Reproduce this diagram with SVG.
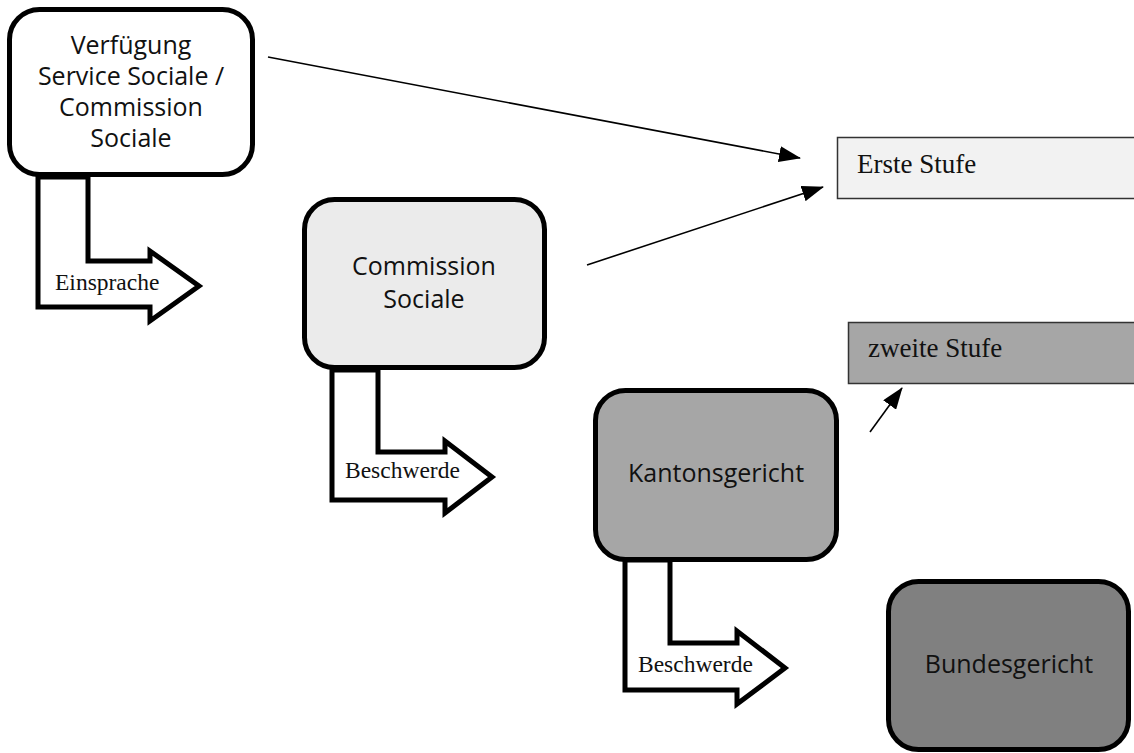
<svg xmlns="http://www.w3.org/2000/svg" width="1134" height="753" viewBox="0 0 1134 753">
<style>
.node{stroke:#000;stroke-width:5}
.lbl{font-family:"Open Sans","Noto Sans",sans-serif;font-size:25px;fill:#111;text-anchor:middle}
.stage{stroke:#333;stroke-width:1.5}
.stxt{font-family:"Liberation Serif","Times New Roman",serif;font-size:27px;fill:#111}
.barrow{fill:#fff;stroke:#000;stroke-width:5;stroke-linejoin:miter}
.btxt{font-family:"Liberation Serif","Times New Roman",serif;font-size:23.5px;fill:#111}
.conn{stroke:#000;stroke-width:1.6;fill:none;marker-end:url(#ah)}
</style>
<defs>
<marker id="ah" markerUnits="userSpaceOnUse" markerWidth="22" markerHeight="16" viewBox="0 0 22 16" refX="21" refY="8" orient="auto">
<path d="M0,0 L22,8 L0,16 Z" fill="#000"/>
</marker>
</defs>
<rect width="1134" height="753" fill="#fff"/>
<g id="stage1">
<rect class="stage" x="837.5" y="137.5" width="310" height="61" fill="#f2f2f2"/>
<text class="stxt" x="857" y="173">Erste Stufe</text>
</g>
<g id="stage2">
<rect class="stage" x="848.5" y="322.5" width="300" height="61" fill="#a6a6a6"/>
<text class="stxt" x="868" y="357">zweite Stufe</text>
</g>
<g id="arrow-einsprache">
<polygon class="barrow" points="38,177 38,307 150,307 150,321 199,286 150,251 150,261 88,261 88,177"/>
<text class="btxt" x="55" y="290">Einsprache</text>
</g>
<g id="arrow-beschwerde1">
<polygon class="barrow" points="332,370 332,500 445,500 445,513 492,477 445,441 445,452 378,452 378,370"/>
<text class="btxt" x="345" y="478">Beschwerde</text>
</g>
<g id="arrow-beschwerde2">
<polygon class="barrow" points="625,560 625,690 737,690 737,704 785,668 737,631 737,643 670,643 670,560"/>
<text class="btxt" x="638" y="672">Beschwerde</text>
</g>
<g id="verfuegung">
<rect class="node" x="9.5" y="9.5" width="243" height="165" rx="30" fill="#fff"/>
<text class="lbl" x="131" y="54">Verfügung</text>
<text class="lbl" x="131" y="85">Service Sociale /</text>
<text class="lbl" x="131" y="116">Commission</text>
<text class="lbl" x="131" y="147">Sociale</text>
</g>
<g id="commission-sociale">
<rect class="node" x="304.5" y="199.5" width="240" height="168" rx="30" fill="#ebebeb"/>
<text class="lbl" x="424" y="275">Commission</text>
<text class="lbl" x="424" y="308">Sociale</text>
</g>
<g id="kantonsgericht">
<rect class="node" x="595.5" y="390.5" width="241" height="169" rx="30" fill="#a6a6a6"/>
<text class="lbl" x="716" y="482">Kantonsgericht</text>
</g>
<g id="bundesgericht">
<rect class="node" x="888.5" y="581.5" width="240" height="168" rx="30" fill="#808080"/>
<text class="lbl" x="1009" y="673">Bundesgericht</text>
</g>
<g id="connectors">
<line class="conn" x1="268" y1="57" x2="800" y2="158"/>
<line class="conn" x1="587" y1="265" x2="823" y2="187"/>
<line class="conn" x1="870" y1="432" x2="902" y2="388"/>
</g>
</svg>
